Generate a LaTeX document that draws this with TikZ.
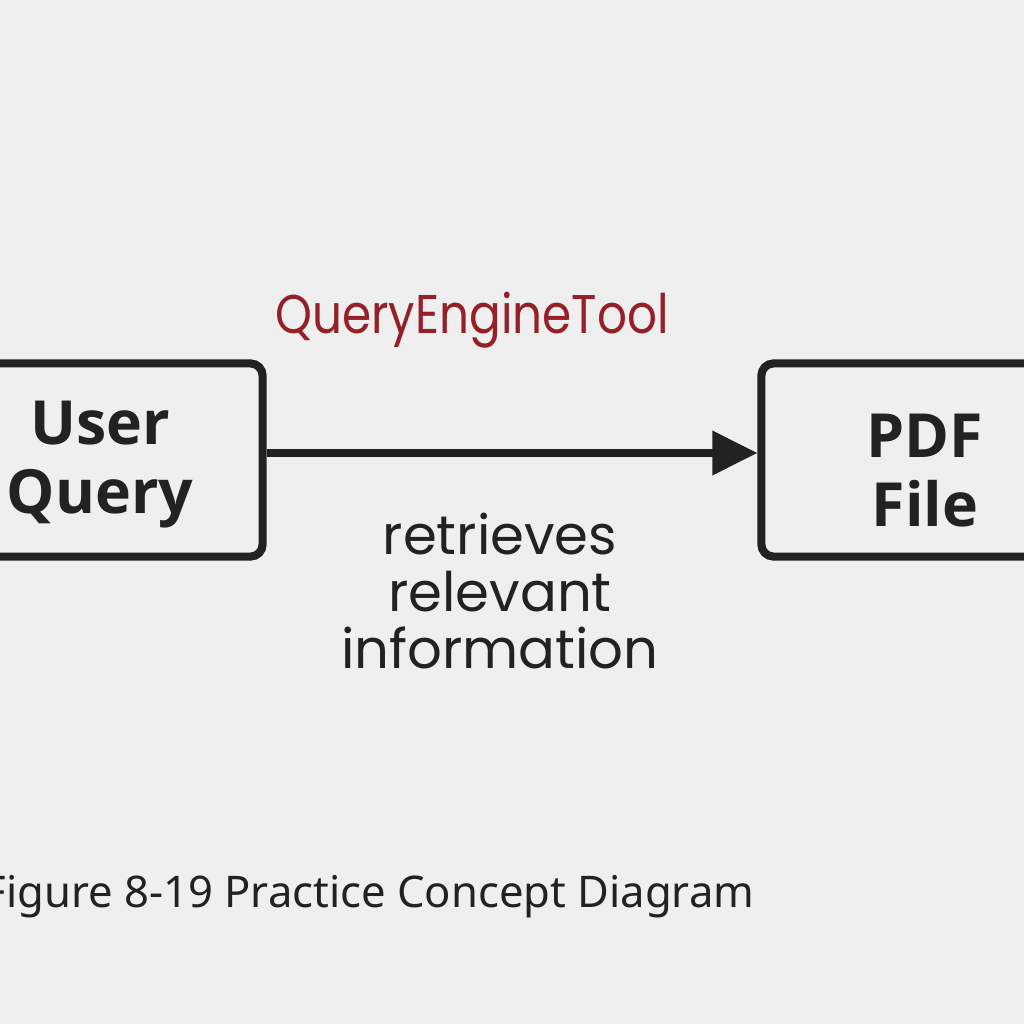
\documentclass[tikz,border=0pt]{standalone}
\usepackage{fontspec}
\setmainfont{Open Sans}
\newfontfamily\handfont{Poppins}
\newfontfamily\toolfont{Poppins}[FakeStretch=0.86]
\newfontfamily\capfont{Noto Sans}
\usetikzlibrary{arrows.meta,positioning}
\definecolor{paper}{RGB}{239,239,239}
\definecolor{ink}{RGB}{34,34,34}
\definecolor{toolred}{RGB}{150,32,40}
\tikzset{
  box/.style={draw=ink, line width=2.3pt, rounded corners=0.12cm, fill=paper,
    minimum width=2.83cm, minimum height=1.93cm, inner sep=0pt},
  boxtext/.style={text=ink, font=\bfseries\fontsize{17.3}{19.6}\selectfont, align=center, inner sep=0pt},
  hand/.style={font=\handfont\fontsize{15.5}{16.2}\selectfont, align=center, inner sep=0pt},
  link/.style={draw=ink, line width=2pt, -{Triangle[length=0.45cm,width=0.43cm]}}
}
\begin{document}
\begin{tikzpicture}[x=0.01cm, y=-0.01cm]
\fill[paper] (0,0) rectangle (1024,1024);
\useasboundingbox (0,0) rectangle (1024,1024);

%User Query
\node[box] (query) at (121,460) {};
\node[boxtext] (querytext) at (100,465) {User\\Query};

%PDF File
\node[box] (pdf) at (903,460) {};
\node[boxtext] (pdftext) at (925,471) {PDF\\File};

%link
\draw[link] ([yshift=0.07cm]query.east) -- ([yshift=0.07cm]pdf.west);
\node[hand, text=toolred, anchor=base, font=\toolfont\fontsize{15.5}{16.2}\selectfont]
  (tool) at (472,333) {QueryEngineTool};
\node[hand, text=ink] (retrieve) at (500,591) {retrieves\\relevant\\information};

%caption
\node[text=ink, anchor=base east, inner sep=0pt, font=\capfont\fontsize{12.4}{14}\selectfont]
  (caption) at (755,907) {Figure 8-19 Practice Concept Diagram};
\end{tikzpicture}
\end{document}
